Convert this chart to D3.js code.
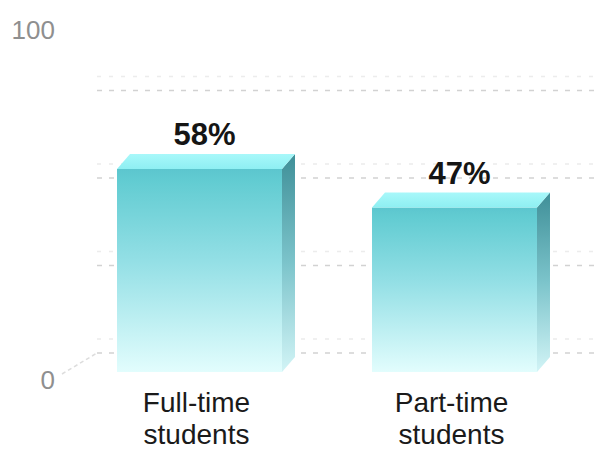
<!DOCTYPE html>
<html>
<head>
<meta charset="utf-8">
<script src="https://cdn.jsdelivr.net/npm/d3@7"></script>
<style>
  html, body { margin: 0; padding: 0; background: #fff; }
  svg { display: block; }
</style>
</head>
<body>
<svg id="chart" width="597" height="451"></svg>
<script>
// Share of students, by mode of study
const categories = ["Full-time students", "Part-time students"];
const shares = [58, 47];
const valueLabels = ["58%", "47%"];
const gridValues = [0, 25, 50, 75];
const axisTicks = [0, 100];

const svg = d3.select("#chart");
const W = 597, H = 451;

const x = d3.scaleBand()
  .domain(categories)
  .range([72, 582])
  .paddingInner(0.353)
  .paddingOuter(0.1765);

const y = d3.scaleLinear().domain([0, 100]).range([372, 22]);

// depth offsets: bar thickness and back wall
const bdx = 13, bdy = -15;
const wdx = 27, wdy = -19;

const defs = svg.append("defs");
const frontGrad = defs.append("linearGradient").attr("id", "front")
  .attr("x1", 0).attr("y1", 0).attr("x2", 0).attr("y2", 1);
frontGrad.append("stop").attr("offset", "0%").attr("stop-color", "#5cc6ce");
frontGrad.append("stop").attr("offset", "6%").attr("stop-color", "#62ccd2");
frontGrad.append("stop").attr("offset", "45%").attr("stop-color", "#93dfe5");
frontGrad.append("stop").attr("offset", "100%").attr("stop-color", "#e2fdfd");

const sideGrad = defs.append("linearGradient").attr("id", "side")
  .attr("x1", 0).attr("y1", 0).attr("x2", 0).attr("y2", 1);
sideGrad.append("stop").attr("offset", "0%").attr("stop-color", "#3f8f98");
sideGrad.append("stop").attr("offset", "50%").attr("stop-color", "#7cc4cb");
sideGrad.append("stop").attr("offset", "100%").attr("stop-color", "#d2f4f6");

const topGrad = defs.append("linearGradient").attr("id", "topface")
  .attr("x1", 0).attr("y1", 0).attr("x2", 0).attr("y2", 1);
topGrad.append("stop").attr("offset", "0%").attr("stop-color", "#a8f8fa");
topGrad.append("stop").attr("offset", "100%").attr("stop-color", "#8eeff2");

// back wall grid (dashed, with a faint companion line above)
const grid = svg.append("g");
const x0 = 70 + wdx;
grid.selectAll("line.faint").data(gridValues).join("line")
  .attr("class", "faint")
  .attr("x1", x0).attr("x2", W)
  .attr("y1", d => y(d) + wdy - 14).attr("y2", d => y(d) + wdy - 14)
  .attr("stroke", "#ececec").attr("stroke-width", 1.5)
  .attr("stroke-dasharray", "4,8");
grid.selectAll("line.main").data(gridValues).join("line")
  .attr("class", "main")
  .attr("x1", x0).attr("x2", W)
  .attr("y1", d => y(d) + wdy).attr("y2", d => y(d) + wdy)
  .attr("stroke", "#d2d2d2").attr("stroke-width", 1.5)
  .attr("stroke-dasharray", "5,7");

// floor edge running back from the zero tick
svg.append("line")
  .attr("x1", 62).attr("y1", y(0) + 2)
  .attr("x2", x0).attr("y2", y(0) + wdy)
  .attr("stroke", "#dddddd").attr("stroke-width", 1.5)
  .attr("stroke-dasharray", "4,3");

// axis tick labels
svg.selectAll("text.tick").data(axisTicks).join("text")
  .attr("class", "tick")
  .attr("x", 55).attr("y", d => y(d) + 17)
  .attr("text-anchor", "end")
  .attr("font-family", "Liberation Sans, Arial, sans-serif")
  .attr("font-size", 26)
  .attr("fill", "#8f8f8f")
  .text(d => d);

// bars
const bars = svg.selectAll("g.bar").data(categories).join("g").attr("class", "bar");
bars.each(function(c, i) {
  const g = d3.select(this);
  const xl = x(c), xr = x(c) + x.bandwidth();
  const yt = y(shares[i]), yb = y(0);
  g.append("rect")
    .attr("x", xl).attr("y", yt)
    .attr("width", x.bandwidth()).attr("height", yb - yt)
    .attr("fill", "url(#front)");
  g.append("path")
    .attr("d", `M${xr},${yt} L${xr + bdx},${yt + bdy} L${xr + bdx},${yb + bdy} L${xr},${yb} Z`)
    .attr("fill", "url(#side)");
  g.append("path")
    .attr("d", `M${xl},${yt} L${xl + bdx},${yt + bdy} L${xr + bdx},${yt + bdy} L${xr},${yt} Z`)
    .attr("fill", "url(#topface)");
});

// value labels
svg.selectAll("text.value").data(categories).join("text")
  .attr("class", "value")
  .attr("x", (c) => x(c) + x.bandwidth() / 2 + 5)
  .attr("y", (c, i) => y(shares[i]) + bdy - 9)
  .attr("text-anchor", "middle")
  .attr("font-family", "Liberation Sans, Arial, sans-serif")
  .attr("font-weight", "bold")
  .attr("font-size", 31)
  .attr("fill", "#151515")
  .text((c, i) => valueLabels[i]);

// category labels, one text per line
const lines = categories.flatMap(c => c.split(" ").map((w, k) => ({ c, w, k })));
svg.selectAll("text.cat").data(lines).join("text")
  .attr("class", "cat")
  .attr("x", d => x(d.c) + x.bandwidth() / 2 - 3)
  .attr("y", d => 412 + d.k * 32)
  .attr("text-anchor", "middle")
  .attr("font-family", "Liberation Sans, Arial, sans-serif")
  .attr("font-size", 28)
  .attr("fill", "#1a1a1a")
  .text(d => d.w);
</script>
</body>
</html>
